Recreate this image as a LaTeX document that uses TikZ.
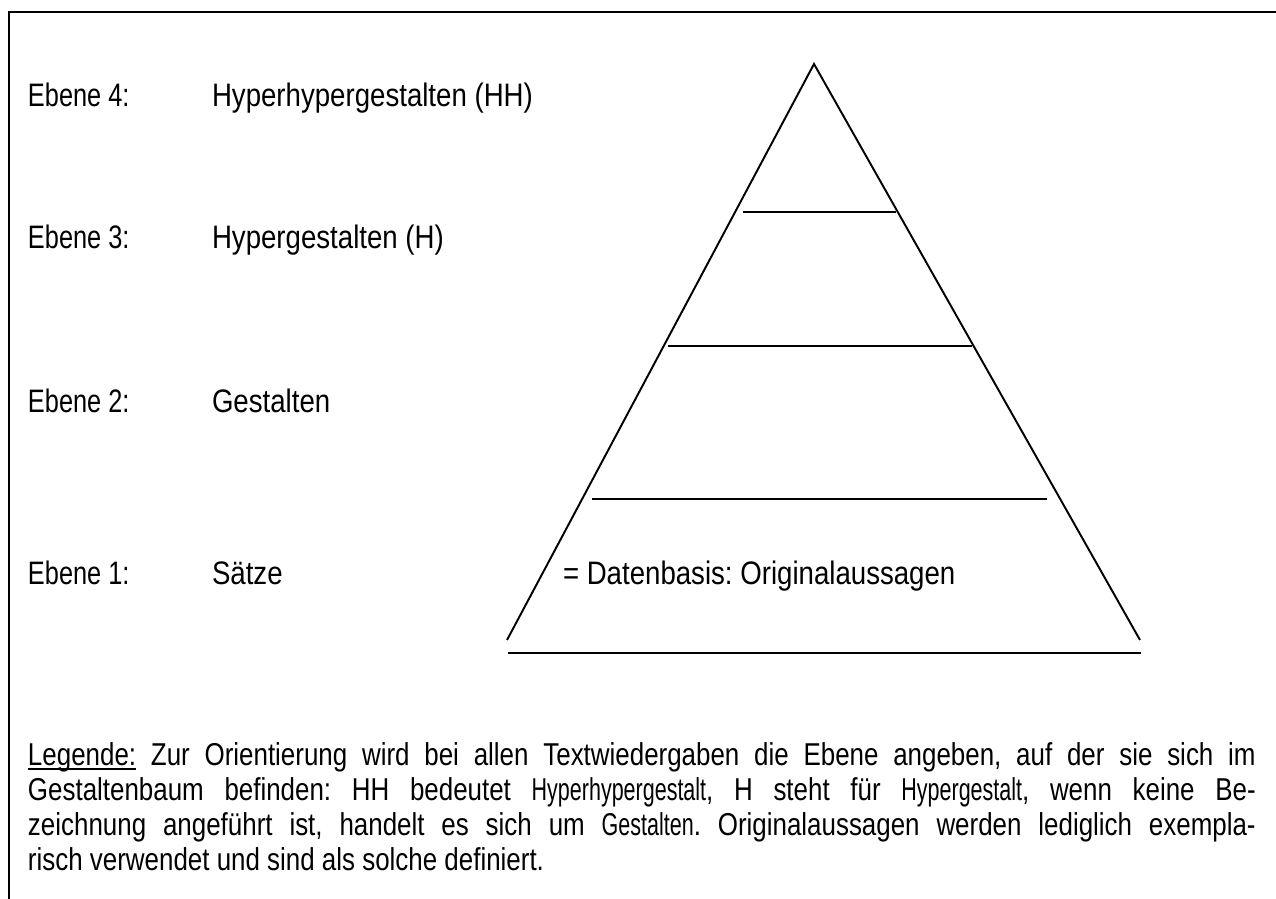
\documentclass[tikz,border=0pt]{standalone}
\usepackage{fontspec}
\setmainfont[FakeStretch=0.85]{Liberation Sans}
\newfontfamily\ebenefont[FakeStretch=0.78]{Liberation Sans}
\newfontfamily\legendfont[FakeStretch=0.82]{Liberation Sans}
\newfontfamily\narrowfont[FakeStretch=0.68]{Liberation Sans}
\usetikzlibrary{positioning}
\frenchspacing

\newcommand{\legline}[1]{\makebox[24.56cm][s]{#1}}
\newcommand{\ulword}[1]{\setbox0\hbox{#1}\rlap{\rule[-2.6pt]{\wd0}{0.8pt}}\copy0\relax}

\begin{document}
\begin{tikzpicture}[x=0.02cm, y=-0.02cm, font=\fontsize{18.5}{22}\selectfont,
    every node/.style={inner sep=0pt, outer sep=0pt},
    level/.style={anchor=base west},
    ebene/.style={level, font=\fontsize{18.5}{22}\ebenefont},
    layer/.style={line width=1.1pt}]
  \useasboundingbox (0,0) rectangle (1276,899);
  % frame
  \draw[line width=1.7pt] (9,899) -- (9,12) -- (1276,12);

  % levels
  \node[ebene] (ebene_four) at (28,106) {Ebene 4:};
  \node[level] (hh) at (212,106) {Hyperhypergestalten (HH)};
  \node[ebene] (ebene_three) at (28,248) {Ebene 3:};
  \node[level] (h) at (212,248) {Hypergestalten (H)};
  \node[ebene] (ebene_two) at (28,412) {Ebene 2:};
  \node[level] (g) at (212,412) {Gestalten};
  \node[ebene] (ebene_one) at (28,584) {Ebene 1:};
  \node[level] (s) at (212,584) {Sätze};
  \node[level] (basis) at (563,584) {= Datenbasis: Originalaussagen};

  % pyramid
  \coordinate (top) at (814,64);
  \coordinate (left_foot) at (507,640);
  \coordinate (right_foot) at (1140,640);
  \draw[layer] (left_foot) -- (top) -- (right_foot);
  \draw[layer] (743,212) -- (896,212);
  \draw[layer] (668,346) -- (972,346);
  \draw[layer] (592,499) -- (1047,499);
  \draw[layer] (508,653) -- (1141,653);

  % legend
  \node[anchor=base west, align=left, font=\fontsize{18}{19.9}\legendfont] (legende) at (28,870) {%
    \legline{\ulword{Legende:} Zur Orientierung wird bei allen Textwiedergaben die Ebene angeben, auf der sie sich im}\\
    \legline{Gestaltenbaum befinden: HH bedeutet {\narrowfont Hyperhypergestalt}, H steht für {\narrowfont Hypergestalt}, wenn keine Be-}\\
    \legline{zeichnung angeführt ist, handelt es sich um {\narrowfont Gestalten}. Originalaussagen werden lediglich exempla-}\\
    risch verwendet und sind als solche definiert.};
\end{tikzpicture}
\end{document}
